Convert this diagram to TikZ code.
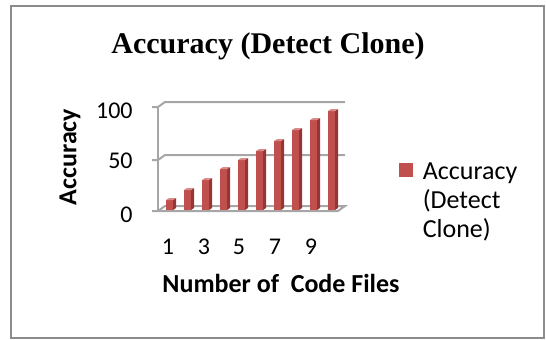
\documentclass[tikz,border=0pt]{standalone}
\usepackage{fontspec}
\setmainfont{Liberation Serif}
\setsansfont{Carlito}

\definecolor{barred}{HTML}{C0504D}
\definecolor{barside}{HTML}{943634}
\definecolor{bartop}{HTML}{D98B89}
\definecolor{gridgray}{HTML}{A6A6A6}
\definecolor{framegray}{HTML}{8C8C8C}

\tikzset{
    grid line/.style={draw=gridgray, line width=1pt},
    tick label/.style={font=\sffamily\fontsize{12}{14}\selectfont, inner sep=0pt},
    axis title/.style={font=\sffamily\bfseries\fontsize{13}{15}\selectfont, inner sep=0pt},
}

\begin{document}
\begin{tikzpicture}[x=0.5pt, y=-0.5pt]
            \useasboundingbox (0,0) rectangle (546,339);
            \draw [framegray, line width=1pt] (11,6) rectangle (544,338);
            \node [anchor=base, font=\bfseries\fontsize{15}{18}\selectfont] (title) at (268,53) {Accuracy (Detect Clone)};
            % walls and floor
            \draw [grid line] (158,107) -- (158,211);
            \draw [grid line] (152,211) -- (158,211) -- (338,211) -- (345,206) -- (165,206) -- (158,211);
            \draw [grid line] (152,160) -- (158,160) -- (165,155) -- (345,155);
            \draw [grid line] (152,107) -- (158,107) -- (165,102) -- (345,102);
            \node [tick label, anchor=east] (y0) at (133,215) {0};
            \node [tick label, anchor=east] (y50) at (133,161) {50};
            \node [tick label, anchor=east] (y100) at (133,111) {100};
            % bars
            \foreach \h [count=\i] in {10,20,30,41,50,59,69,80,90,99} {
                \pgfmathsetmacro{\xl}{166+18*(\i-1)}
                \fill [barred] (\xl,210) rectangle ++(7,-\h);
                \fill [barside] (\xl+7,210) -- ++(3,-2) -- ++(0,-\h) -- ++(-3,2) -- cycle;
                \fill [bartop] (\xl,210-\h) -- ++(3,-2) -- ++(7,0) -- ++(-3,2) -- cycle;
            }
            \foreach \n/\x in {1/168, 3/204, 5/239, 7/275, 9/311}
                \node [tick label] (x\n) at (\x,247) {\n};
            \node [axis title] (xtitle) at (281,283) {Number of~~Code Files};
            \node [axis title, rotate=90] (ytitle) at (70,157) {Accuracy};
            % legend
            \node [fill=barred, minimum size=7pt, inner sep=0pt] (key) at (406,170) {};
            \node [anchor=north west, inner sep=0pt, align=left, font=\sffamily\fontsize{13}{14.5}\selectfont]
                (keytext) at ([xshift=4.5pt]key.north east) {Accuracy\\(Detect\\Clone)};
        \end{tikzpicture}
\end{document}
